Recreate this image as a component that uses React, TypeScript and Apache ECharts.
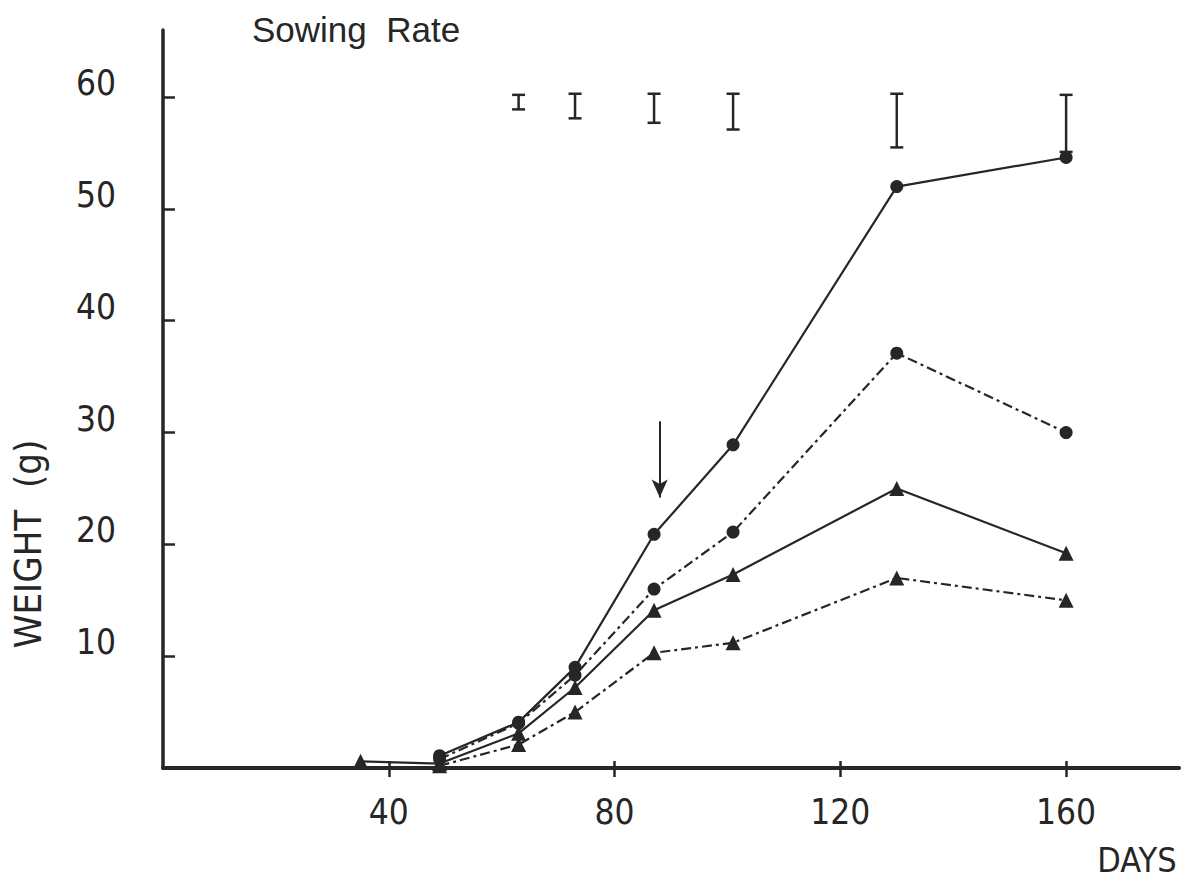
import React, { useEffect, useRef } from "react";
import * as echarts from "echarts";

// Sampling days (x) and plant weight in grams (y) for four sowing-rate treatments
const days = [35, 49, 63, 73, 87, 101, 130, 160];
const solidCircle = [null, 1.1, 4.1, 9.0, 20.9, 28.9, 52.0, 54.6];
const dashCircle = [null, 0.8, 4.0, 8.3, 16.0, 21.1, 37.1, 30.0];
const solidTriangle = [0.6, 0.4, 3.1, 7.2, 14.1, 17.3, 25.0, 19.2];
const dashTriangle = [null, 0.2, 2.1, 5.0, 10.3, 11.2, 17.0, 15.0];

// LSD bars drawn along the top of the plot
const barDays = [63, 73, 87, 101, 130, 160];
const barLow = [58.9, 58.1, 57.7, 57.1, 55.5, 55.1];
const barHigh = [60.2, 60.3, 60.3, 60.3, 60.3, 60.2];

// Arrow marking the harvest point
const arrowDay = 88;
const arrowFrom = 31.0;
const arrowTo = 24.2;

const xTicks = [40, 80, 120, 160];
const yTicks = [10, 20, 30, 40, 50, 60];

const INK = "#262626";
const NARROW = '"DejaVu Sans Condensed", "Liberation Sans", sans-serif';
const REGULAR = '"Liberation Sans", "DejaVu Sans", sans-serif';
const DASH_DOT = [10, 4, 3, 4];

function pairs(values: (number | null)[]) {
  const out: number[][] = [];
  values.forEach((v, i) => {
    if (v !== null) out.push([days[i], v]);
  });
  return out;
}

function lineSeries(name: string, values: (number | null)[], symbol: string, dashed: boolean) {
  return {
    name,
    type: "line",
    data: pairs(values),
    symbol,
    symbolSize: symbol === "circle" ? 13 : 15,
    itemStyle: { color: INK },
    lineStyle: { color: INK, width: 2.2, type: dashed ? DASH_DOT : "solid" },
    z: 3,
  };
}

export default function App() {
  const ref = useRef<HTMLDivElement>(null);

  useEffect(() => {
    if (!ref.current) return;
    const chart = echarts.init(ref.current, undefined, { renderer: "svg" });

    const main = lineSeries("High rate", solidCircle, "circle", false) as any;
    main.markLine = {
      silent: true,
      symbol: ["none", "arrow"],
      symbolSize: [12, 18],
      label: { show: false },
      lineStyle: { color: INK, width: 2, type: "solid" },
      data: [[{ coord: [arrowDay, arrowFrom] }, { coord: [arrowDay, arrowTo] }]],
    };

    chart.setOption({
      animation: false,
      backgroundColor: "#ffffff",
      grid: { left: 163, right: 11, top: 30, bottom: 114 },
      xAxis: [
        {
          type: "value",
          min: 0,
          max: 180,
          position: "bottom",
          splitLine: { show: false },
          axisLine: { lineStyle: { color: INK, width: 4 } },
          axisTick: { customValues: xTicks, length: 9, lineStyle: { color: INK, width: 2.5 } },
          axisLabel: {
            customValues: xTicks,
            color: INK,
            fontFamily: NARROW,
            fontSize: 35,
            margin: 26,
          },
        },
        {
          type: "value",
          min: 0,
          max: 180,
          position: "bottom",
          splitLine: { show: false },
          axisLine: { show: false },
          axisTick: { customValues: xTicks, inside: true, length: 7, lineStyle: { color: INK, width: 2.5 } },
          axisLabel: { show: false },
        },
      ],
      yAxis: {
        type: "value",
        min: 0,
        max: 66,
        splitLine: { show: false },
        axisLine: { lineStyle: { color: INK, width: 3.5 } },
        axisTick: { customValues: yTicks, inside: true, length: 12, lineStyle: { color: INK, width: 2.5 } },
        axisLabel: {
          customValues: yTicks,
          color: INK,
          fontFamily: NARROW,
          fontSize: 35,
          margin: 47,
          verticalAlign: "bottom",
          lineHeight: 28,
        },
      },
      series: [
        main,
        lineSeries("Medium-high rate", dashCircle, "circle", true),
        lineSeries("Medium-low rate", solidTriangle, "triangle", false),
        lineSeries("Low rate", dashTriangle, "triangle", true),
        {
          name: "LSD",
          type: "custom",
          data: barDays.map((d, i) => [d, barLow[i], barHigh[i]]),
          renderItem: (_params: any, api: any) => {
            const lo = api.coord([api.value(0), api.value(1)]);
            const hi = api.coord([api.value(0), api.value(2)]);
            const w = 6.5;
            const style = { stroke: INK, lineWidth: 2.5 };
            return {
              type: "group",
              children: [
                { type: "line", shape: { x1: lo[0], y1: lo[1], x2: hi[0], y2: hi[1] }, style },
                { type: "line", shape: { x1: hi[0] - w, y1: hi[1], x2: hi[0] + w, y2: hi[1] }, style },
                { type: "line", shape: { x1: lo[0] - w, y1: lo[1], x2: lo[0] + w, y2: lo[1] }, style },
              ],
            };
          },
          z: 4,
        },
      ],
      graphic: [
        {
          type: "text",
          left: 252,
          top: 12,
          style: { text: "Sowing  Rate", fill: INK, font: `35px ${REGULAR}` },
        },
        {
          type: "text",
          x: 28,
          y: 544,
          rotation: Math.PI / 2,
          style: {
            text: "WEIGHT  (g)",
            fill: INK,
            font: `38px ${NARROW}`,
            align: "center",
            verticalAlign: "middle",
          },
        },
        {
          type: "text",
          x: 1137,
          y: 860,
          style: {
            text: "DAYS",
            fill: INK,
            font: `34px ${NARROW}`,
            align: "center",
            verticalAlign: "middle",
          },
        },
      ],
    });

    return () => chart.dispose();
  }, []);

  return (
    <div
      ref={ref}
      style={{ position: "absolute", left: 0, top: 0, width: 1190, height: 882, background: "#fff" }}
    />
  );
}
